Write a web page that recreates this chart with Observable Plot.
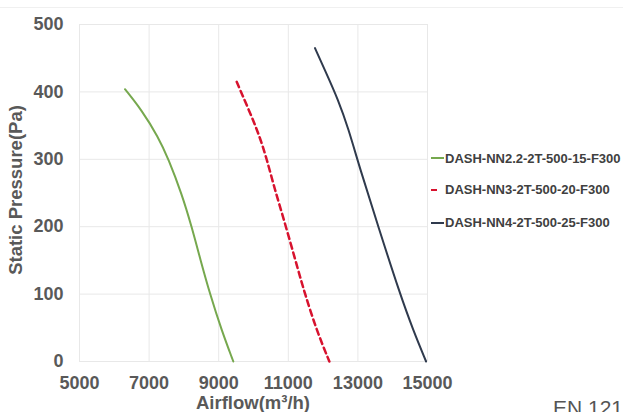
<!DOCTYPE html>
<html>
<head>
<meta charset="utf-8">
<script src="https://cdn.jsdelivr.net/npm/d3@7"></script>
<script src="https://cdn.jsdelivr.net/npm/@observablehq/plot@0.6"></script>
<style>
  html, body { margin: 0; padding: 0; background: #fff; }
  #wrap { position: relative; width: 623px; height: 412px; overflow: hidden; font-family: "Liberation Sans", Arial, sans-serif; }
  #wrap svg { position: absolute; left: 0; top: 0; }
  .ttl { position: absolute; font-weight: bold; font-size: 18.5px; line-height: 16px; color: #595959; white-space: nowrap; }
  .leg { position: absolute; left: 431px; font-weight: bold; font-size: 13px; color: #404040; white-space: nowrap; display: flex; align-items: center; }
  .leg .sw { width: 13px; height: 0; margin-right: 1px; }
</style>
</head>
<body>
<div id="wrap"></div>
<script>
// Series names
const seriesNames = ["DASH-NN2.2-2T-500-15-F300", "DASH-NN3-2T-500-20-F300", "DASH-NN4-2T-500-25-F300"];
const seriesColors = ["#76a84e", "#d7122e", "#2f3a4d"];

// Series 1 (green)
const airflow1 = [6307, 6787, 7264, 7552, 7937, 8224, 8480, 8750, 9086, 9420];
const pressure1 = [404, 373, 333, 301, 249, 200, 150, 100, 46, 0];
// Series 2 (red dashed)
const airflow2 = [9517, 9851, 10150, 10379, 10618, 10856, 11287, 11480, 11816, 12180];
const pressure2 = [415, 375, 338, 301, 254, 214, 135, 100, 46, 0];
// Series 3 (navy)
const airflow3 = [11767, 12055, 12437, 12724, 13060, 13586, 14210, 14592, 14960];
const pressure3 = [465, 432, 388, 346, 286, 200, 100, 46, 0];

// Ticks
const xTicks = [5000, 7000, 9000, 11000, 13000, 15000];
const yTicks = [0, 100, 200, 300, 400, 500];

const toRows = (xs, ys) => xs.map((x, i) => ({x, y: ys[i]}));
const s1 = toRows(airflow1, pressure1);
const s2 = toRows(airflow2, pressure2);
const s3 = toRows(airflow3, pressure3);

const chart = Plot.plot({
  width: 623,
  height: 412,
  marginLeft: 79,
  marginRight: 196,
  marginTop: 24,
  marginBottom: 51,
  style: {fontFamily: "'Liberation Sans', Arial, sans-serif", fontSize: "18px", fontWeight: "bold", color: "#595959", background: "transparent"},
  x: {domain: [5000, 15000]},
  y: {domain: [0, 500]},
  marks: [
    Plot.gridX(xTicks, {stroke: "#e8e8e8", strokeOpacity: 1}),
    Plot.gridY(yTicks, {stroke: "#e8e8e8", strokeOpacity: 1}),
    Plot.axisX(xTicks, {tickSize: 0, tickPadding: 15, tickFormat: d => String(d), label: null, fontWeight: "bold"}),
    Plot.axisY(yTicks, {tickSize: 0, tickPadding: 16, tickFormat: d => String(d), label: null, fontWeight: "bold"}),
    Plot.line(s1, {x: "x", y: "y", stroke: seriesColors[0], strokeWidth: 2, curve: "basis"}),
    Plot.line(s2, {x: "x", y: "y", stroke: seriesColors[1], strokeWidth: 2.5, strokeDasharray: "6,4", curve: "basis"}),
    Plot.line(s3, {x: "x", y: "y", stroke: seriesColors[2], strokeWidth: 2, curve: "basis"})
  ]
});

const wrap = document.getElementById("wrap");
wrap.appendChild(chart);

// faint top border
const topLine = document.createElement("div");
topLine.style.cssText = "position:absolute;left:0;top:7px;width:623px;height:1px;background:#f0f0f0;";
wrap.appendChild(topLine);

// axis titles
const xt = document.createElement("div");
xt.className = "ttl";
xt.textContent = "Airflow(m³/h)";
xt.style.left = "253px"; xt.style.top = "395px"; xt.style.transform = "translateX(-50%)";
wrap.appendChild(xt);

const yt = document.createElement("div");
yt.className = "ttl";
yt.textContent = "Static Pressure(Pa)";
yt.style.left = "16px"; yt.style.top = "190px";
yt.style.transform = "translate(-50%,-50%) rotate(-90deg)";
wrap.appendChild(yt);

// legend
const legY = [158, 189.5, 222.5];
seriesNames.forEach((name, i) => {
  const row = document.createElement("div");
  row.className = "leg";
  row.style.top = (legY[i] - 8) + "px";
  row.style.height = "16px";
  const sw = document.createElement("span");
  sw.className = "sw";
  if (i === 1) {
    sw.style.borderTop = "2.5px solid " + seriesColors[i];
    sw.style.width = "6px";
    sw.style.marginRight = "8px";
  } else {
    sw.style.borderTop = "2px solid " + seriesColors[i];
  }
  row.appendChild(sw);
  const t = document.createElement("span");
  t.textContent = name;
  row.appendChild(t);
  wrap.appendChild(row);
});

// partial footer text (cut off at the edge, as in the reference)
const en = document.createElement("div");
en.textContent = "EN 12101-3";
en.style.cssText = "position:absolute;left:553px;top:396px;font-size:21px;color:#555;white-space:nowrap;font-family:'Liberation Sans',Arial,sans-serif;";
wrap.appendChild(en);
</script>
</body>
</html>
